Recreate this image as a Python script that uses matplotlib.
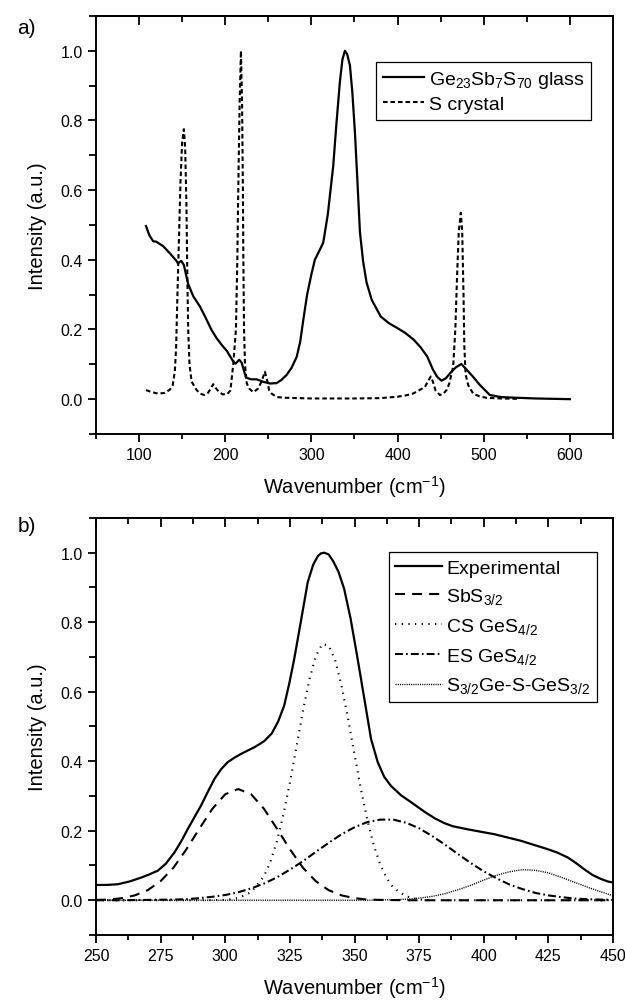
import matplotlib
matplotlib.use("Agg")
import matplotlib.pyplot as plt
from matplotlib.ticker import MultipleLocator, FormatStrFormatter

plt.rcParams['font.family'] = ['Liberation Sans', 'DejaVu Sans']
plt.rcParams['mathtext.fontset'] = 'custom'
plt.rcParams['mathtext.rm'] = 'Liberation Sans'
plt.rcParams['mathtext.it'] = 'Liberation Sans:italic'
plt.rcParams['mathtext.bf'] = 'Liberation Sans:bold'

# ---- panel a) : glass vs S crystal (values read off the figure) ----
glass_x = [108, 112, 116.5, 120, 128, 136, 143.6, 145, 149, 152, 157, 163, 170.6, 177, 184, 190,
           195.8, 202, 209.3, 212, 216.2, 219, 224, 230, 236.4, 244, 251.9, 259.6, 265, 271, 277,
           283, 287, 290.6, 295, 300.3, 304, 308, 313.7, 319, 325.3, 329, 333, 336, 338.9, 341.5,
           344.7, 347.5, 350.5, 353.5, 356.3, 360, 364, 370, 380.5, 390, 399.8, 409, 419, 427,
           434.5, 441, 446, 451, 456, 462.6, 468, 474, 480, 487.7, 495, 507, 520, 538, 560, 580, 600]
glass_y = [0.497, 0.47, 0.453, 0.452, 0.439, 0.418, 0.396, 0.39, 0.397, 0.385, 0.33, 0.295, 0.266,
           0.235, 0.199, 0.175, 0.156, 0.138, 0.108, 0.102, 0.113, 0.105, 0.062, 0.057, 0.057, 0.05,
           0.045, 0.046, 0.055, 0.069, 0.09, 0.122, 0.165, 0.228, 0.3, 0.362, 0.4, 0.42, 0.449, 0.53,
           0.669, 0.79, 0.91, 0.975, 1.0, 0.99, 0.958, 0.88, 0.766, 0.62, 0.48, 0.395, 0.335, 0.285,
           0.237, 0.218, 0.204, 0.19, 0.17, 0.148, 0.122, 0.085, 0.064, 0.053, 0.06, 0.079, 0.092,
           0.101, 0.085, 0.064, 0.042, 0.012, 0.006, 0.004, 0.002, 0.001, 0.0]

crys_x = [108, 115, 122, 130, 136, 139, 141.5, 143, 144.5, 146.5, 148, 150, 152, 153.5, 155, 156,
          157, 158.5, 161, 166.8, 171, 175.3, 180, 183, 186, 189, 193, 197, 202, 206, 209.3, 212.4,
          214, 215.1, 216.7, 218.2, 219.5, 220.5, 221, 221.8, 222.9, 225, 228, 232.5, 238, 242, 246,
          249, 251, 253.8, 260, 270, 300, 350, 380, 400, 410, 418, 426, 431.7, 435, 438.5, 441, 444,
          449, 453, 456.8, 460, 464.5, 467, 469, 471, 473.4, 475, 476.5, 477.5, 479, 482, 487.7,
          495, 503, 520, 540]
crys_y = [0.026, 0.02, 0.016, 0.018, 0.028, 0.04, 0.08, 0.15, 0.3, 0.48, 0.62, 0.74, 0.775, 0.72,
          0.55, 0.35, 0.2, 0.1, 0.05, 0.026, 0.016, 0.012, 0.018, 0.03, 0.043, 0.032, 0.02, 0.014,
          0.014, 0.025, 0.1, 0.2, 0.4, 0.6, 0.85, 1.0, 0.85, 0.6, 0.4, 0.2, 0.1, 0.045, 0.03, 0.02,
          0.03, 0.05, 0.079, 0.05, 0.025, 0.016, 0.006, 0.004, 0.002, 0.002, 0.003, 0.007, 0.011,
          0.016, 0.027, 0.035, 0.05, 0.065, 0.05, 0.025, 0.012, 0.015, 0.026, 0.045, 0.093, 0.2,
          0.35, 0.48, 0.535, 0.48, 0.3, 0.15, 0.07, 0.04, 0.016, 0.008, 0.004, 0.002, 0.001]

# ---- panel b) : fit of the glass band ----
exp_x = [250, 254, 258.4, 263, 267.4, 270.5, 273.9, 277, 280.3, 283, 285.5, 288, 290.6, 293, 295.8,
         298.5, 300.9, 303.5, 306.1, 308.5, 311.2, 313, 315.1, 318, 320.5, 322.8, 324.8, 326.7,
         329.2, 331.9, 334, 335.8, 337, 338.3, 340, 341.8, 343.8, 346, 348.5, 351.2, 353.8, 356.4,
         359, 361.5, 364.1, 368, 371.9, 377, 381, 384.7, 388, 393.8, 404.1, 414.4, 424.7, 428.5,
         432.5, 435.5, 438.9, 442, 445.4, 448, 450]
exp_y = [0.044, 0.044, 0.046, 0.054, 0.065, 0.074, 0.085, 0.105, 0.137, 0.17, 0.205, 0.238, 0.272,
         0.308, 0.349, 0.378, 0.397, 0.41, 0.421, 0.43, 0.44, 0.448, 0.458, 0.48, 0.515, 0.56,
         0.625, 0.695, 0.8, 0.915, 0.965, 0.99, 0.998, 1.0, 0.995, 0.975, 0.945, 0.896, 0.81,
         0.695, 0.58, 0.464, 0.397, 0.355, 0.329, 0.302, 0.282, 0.255, 0.236, 0.222, 0.213, 0.204,
         0.19, 0.171, 0.147, 0.137, 0.123, 0.108, 0.089, 0.073, 0.061, 0.054, 0.051]

sbs_x = [250, 255, 260, 265, 270, 275, 280, 285, 290, 295, 300, 305, 310, 315, 320, 325, 330, 335,
         340, 345, 350, 355, 360, 370, 450]
sbs_y = [0.001, 0.002, 0.006, 0.014, 0.029, 0.055, 0.094, 0.147, 0.206, 0.263, 0.305, 0.320, 0.305,
         0.263, 0.206, 0.147, 0.094, 0.055, 0.029, 0.014, 0.006, 0.002, 0.001, 0.0, 0.0]

cs_x = [250, 290, 300, 305, 310, 315, 317.5, 320, 322.5, 325, 327.5, 330, 332.5, 335, 337.5, 340,
        342.5, 345, 347.5, 350, 352.5, 355, 357.5, 360, 362.5, 365, 370, 375, 380, 400, 450]
cs_y = [0.0, 0.0, 0.001, 0.006, 0.023, 0.069, 0.111, 0.170, 0.247, 0.338, 0.440, 0.543, 0.634,
        0.702, 0.737, 0.733, 0.691, 0.617, 0.523, 0.419, 0.319, 0.230, 0.157, 0.102, 0.063, 0.036,
        0.011, 0.002, 0.0, 0.0, 0.0]

es_x = [250, 260, 270, 280, 285, 290, 295, 300, 305, 310, 315, 320, 325, 330, 335, 340, 345, 350,
        355, 360, 365, 370, 375, 380, 385, 390, 395, 400, 405, 410, 415, 420, 425, 430, 435, 440,
        445, 450]
es_y = [0.0, 0.0, 0.001, 0.002, 0.003, 0.006, 0.010, 0.015, 0.023, 0.034, 0.048, 0.066, 0.088,
        0.112, 0.139, 0.165, 0.190, 0.210, 0.225, 0.232, 0.232, 0.223, 0.207, 0.185, 0.160, 0.133,
        0.107, 0.083, 0.063, 0.045, 0.032, 0.021, 0.014, 0.009, 0.005, 0.003, 0.002, 0.001]

gsg_x = [250, 355, 360, 365, 370, 375, 380, 385, 390, 395, 400, 405, 410, 415, 420, 425, 430, 435,
         440, 445, 450]
gsg_y = [0.0, 0.0, 0.001, 0.0015, 0.003, 0.006, 0.011, 0.019, 0.030, 0.043, 0.058, 0.072, 0.082,
         0.088, 0.086, 0.079, 0.066, 0.052, 0.038, 0.025, 0.013]

TICK_FS = 11.5
LABEL_FS = 14.5
LEG_FS = 14


def style_axes(ax, xmaj, xmin):
    for s in ax.spines.values():
        s.set_linewidth(1.4)
    ax.set_ylim(-0.1, 1.1)
    ax.xaxis.set_major_locator(MultipleLocator(xmaj))
    ax.xaxis.set_minor_locator(MultipleLocator(xmin))
    ax.yaxis.set_major_locator(MultipleLocator(0.2))
    ax.yaxis.set_minor_locator(MultipleLocator(0.1))
    ax.yaxis.set_major_formatter(FormatStrFormatter('%.1f'))
    ax.tick_params(which='both', direction='out', top=False, right=False, width=1.3,
                   labelsize=TICK_FS)
    ax.tick_params(axis='x', which='major', length=6)
    ax.tick_params(axis='x', which='minor', length=3.5)
    ax.tick_params(axis='y', which='major', length=6)
    ax.tick_params(axis='y', which='minor', length=5)
    top = ax.secondary_xaxis('top')
    top.xaxis.set_major_locator(MultipleLocator(xmaj))
    top.xaxis.set_minor_locator(MultipleLocator(xmin))
    top.tick_params(which='both', direction='in', labeltop=False, width=1.3)
    top.tick_params(which='major', length=6.5)
    top.tick_params(which='minor', length=4.5)
    top.spines['top'].set_linewidth(1.4)
    ax.set_xlabel('Wavenumber (cm$^{-1}$)', fontsize=LABEL_FS, labelpad=8)
    ax.set_ylabel('Intensity (a.u.)', fontsize=LABEL_FS, labelpad=10)


fig = plt.figure(figsize=(6.25, 10.03), dpi=100)
ax1 = fig.add_axes([0.1536, 0.5663, 0.8272, 0.4168])
ax2 = fig.add_axes([0.1536, 0.0668, 0.8272, 0.4158])

ax1.plot(glass_x, glass_y, color='black', lw=1.6,
         label=r'$\mathrm{Ge_{23}Sb_{7}S_{70}}$ glass')
ax1.plot(crys_x, crys_y, color='black', lw=1.5, linestyle=(0, (2.2, 1.4)), label='S crystal')
ax1.set_xlim(50, 650)
style_axes(ax1, 100, 50)
leg1 = ax1.legend(loc='upper right', bbox_to_anchor=(0.957, 0.89), fontsize=LEG_FS,
                  frameon=True, fancybox=False, edgecolor='black', framealpha=1,
                  handlelength=2.1, handletextpad=0.25, borderpad=0.35, labelspacing=0.3,
                  borderaxespad=0)
leg1.get_frame().set_linewidth(0.9)

ax2.plot(exp_x, exp_y, color='black', lw=1.6, label='Experimental')
ax2.plot(sbs_x, sbs_y, color='black', lw=1.5, linestyle=(0, (4.8, 3.4)),
         label=r'$\mathrm{SbS_{3/2}}$')
ax2.plot(cs_x, cs_y, color='black', lw=1.5, linestyle=(0, (0.6, 2.6)),
         label=r'CS $\mathrm{GeS_{4/2}}$')
ax2.plot(es_x, es_y, color='black', lw=1.5, linestyle=(0, (3.8, 1.5, 0.8, 1.5)),
         label=r'ES $\mathrm{GeS_{4/2}}$')
ax2.plot(gsg_x, gsg_y, color='black', lw=1.0, linestyle=(0, (0.8, 0.8)),
         label=r'$\mathrm{S_{3/2}}$Ge-S-Ge$\mathrm{S_{3/2}}$')
ax2.set_xlim(250, 450)
style_axes(ax2, 25, 12.5)
leg2 = ax2.legend(loc='upper right', bbox_to_anchor=(0.969, 0.918), fontsize=LEG_FS,
                  frameon=True, fancybox=False, edgecolor='black', framealpha=1,
                  handlelength=2.4, handletextpad=0.2, borderpad=0.35, labelspacing=0.5,
                  borderaxespad=0)
leg2.get_frame().set_linewidth(0.9)

fig.text(0.027, 1 - 28 / 1003, 'a)', fontsize=15, va='center', ha='left')
fig.text(0.029, 1 - 527 / 1003, 'b)', fontsize=15, va='center', ha='left')

fig.savefig('out.png', dpi=100)
